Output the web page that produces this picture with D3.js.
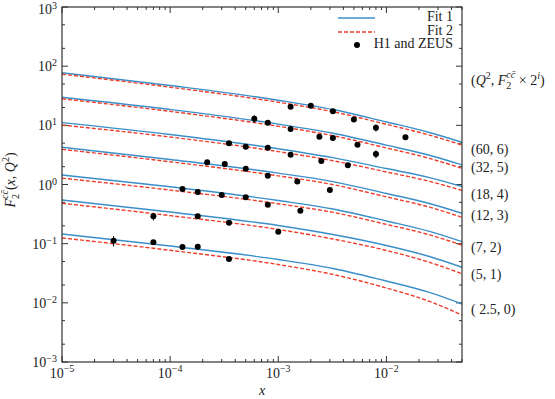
<!DOCTYPE html>
<html>
<head>
<meta charset="utf-8">
<script src="https://cdn.jsdelivr.net/npm/d3@7"></script>
<style>
  body { margin: 0; background: #fff; }
  text { font-family: "Liberation Serif", "DejaVu Serif", serif; fill: #222; }
</style>
</head>
<body>
<svg id="chart" width="555" height="399"></svg>
<script>
const xs = [1e-5, 1e-4, 1e-3, 3.2e-3, 1e-2, 2.5e-2, 5e-2];

// curve labels, lowest curve first: (Q^2, i), plotted value is F2 x 2^i
const curveLabels = ['( 2.5, 0)', '(5, 1)', '(7, 2)', '(12, 3)', '(18, 4)', '(32, 5)', '(60, 6)'];
const labelAt = [0.0079, 0.031, 0.089, 0.305, 0.69, 2.0, 3.94];

// Fit 1 (solid blue)
const fit1 = [
  [0.146, 0.0913, 0.0540, 0.0381, 0.0234, 0.0150, 0.00956],
  [0.547, 0.343, 0.203, 0.143, 0.0932, 0.0607, 0.0399],
  [1.45, 0.915, 0.537, 0.386, 0.242, 0.161, 0.108],
  [4.25, 2.65, 1.56, 1.12, 0.705, 0.478, 0.326],
  [11.1, 7.00, 4.01, 2.84, 1.86, 1.31, 0.926],
  [29.8, 18.5, 10.5, 7.36, 4.63, 3.12, 2.14],
  [77.6, 47.1, 26.6, 18.5, 11.4, 7.57, 5.17]
];

// Fit 2 (dashed red)
const fit2 = [
  [0.125, 0.0772, 0.0444, 0.0302, 0.0178, 0.0106, 0.00623],
  [0.481, 0.298, 0.174, 0.120, 0.0767, 0.0484, 0.0310],
  [1.28, 0.805, 0.473, 0.338, 0.212, 0.141, 0.0943],
  [3.93, 2.42, 1.40, 0.997, 0.618, 0.414, 0.279],
  [10.1, 6.35, 3.60, 2.52, 1.63, 1.13, 0.793],
  [28.1, 17.2, 9.64, 6.68, 4.15, 2.76, 1.88],
  [73.2, 44.1, 24.6, 17.0, 10.4, 6.84, 4.65]
];

// H1 and ZEUS points per curve
const dataX = [
  [3e-5, 7e-5, 1.3e-4, 1.8e-4, 3.5e-4],
  [7e-5, 1.8e-4, 3.5e-4, 1e-3],
  [1.3e-4, 1.8e-4, 3e-4, 5e-4, 8e-4, 1.6e-3],
  [2.2e-4, 3.2e-4, 5e-4, 8e-4, 1.5e-3, 3e-3],
  [3.5e-4, 5e-4, 8e-4, 1.3e-3, 2.5e-3, 4.4e-3],
  [6e-4, 8e-4, 1.3e-3, 2.4e-3, 3.2e-3, 5.4e-3, 8e-3],
  [1.3e-3, 2e-3, 3.2e-3, 5e-3, 8e-3, 1.5e-2]
];
const dataY = [
  [0.112, 0.106, 0.088, 0.089, 0.055],
  [0.29, 0.29, 0.226, 0.159],
  [0.84, 0.747, 0.665, 0.608, 0.456, 0.361],
  [2.37, 2.22, 1.85, 1.41, 1.12, 0.808],
  [4.97, 4.36, 4.19, 3.19, 2.50, 2.11],
  [12.9, 11.1, 8.67, 6.43, 6.11, 4.71, 3.28],
  [20.7, 21.5, 17.3, 12.5, 9.12, 6.28]
];
// relative errors
const dataErr = [
  [0.2, 0.06, 0.06, 0.06, 0.06],
  [0.15, 0.06, 0.06, 0.06],
  [0.06, 0.1, 0.06, 0.06, 0.06, 0.06],
  [0.06, 0.06, 0.06, 0.06, 0.06, 0.06],
  [0.06, 0.06, 0.06, 0.06, 0.06, 0.06],
  [0.15, 0.06, 0.06, 0.06, 0.06, 0.06, 0.15],
  [0.06, 0.06, 0.06, 0.06, 0.14, 0.06]
];

const xMajor = [1e-5, 1e-4, 1e-3, 1e-2];
const yMajor = [1e-3, 1e-2, 1e-1, 1, 10, 100, 1000];
const xExp = ['\u22125', '\u22124', '\u22123', '\u22122'];
const yExp = ['\u22123', '\u22122', '\u22121', '0', '1', '2', '3'];

const blue = '#3a8fc9';
const red = '#ec3d2d';

const L = 62, R = 462, T = 7, B = 362;
const x = d3.scaleLog().domain([1e-5, 0.05]).range([L, R]);
const y = d3.scaleLog().domain([1e-3, 1e3]).range([B, T]);

const svg = d3.select('#chart');

svg.append('clipPath').attr('id', 'clip')
  .append('rect').attr('x', L).attr('y', T).attr('width', R - L).attr('height', B - T);

// minor ticks
const xMinor = [];
xMajor.forEach(m => { for (let k = 2; k <= 9; k++) if (m * k <= 0.05) xMinor.push(m * k); });
const yMinor = [];
yMajor.slice(0, -1).forEach(m => { yMinor.push(m * 2, m * 5); });

const axes = svg.append('g').attr('stroke', '#333').attr('stroke-width', 1);
function xTick(v, len) {
  axes.append('line').attr('x1', x(v)).attr('x2', x(v)).attr('y1', B).attr('y2', B - len);
  axes.append('line').attr('x1', x(v)).attr('x2', x(v)).attr('y1', T).attr('y2', T + len);
}
function yTick(v, len) {
  axes.append('line').attr('x1', L).attr('x2', L + len).attr('y1', y(v)).attr('y2', y(v));
  axes.append('line').attr('x1', R).attr('x2', R - len).attr('y1', y(v)).attr('y2', y(v));
}
xMajor.forEach(v => xTick(v, 6));
xMinor.forEach(v => xTick(v, 3));
yMajor.forEach(v => yTick(v, 6));
yMinor.forEach(v => yTick(v, 3));

// fit curves
const line = d3.line().x((d, i) => x(xs[i])).y(d => y(d)).curve(d3.curveMonotoneX);
const curves = svg.append('g').attr('clip-path', 'url(#clip)').attr('fill', 'none');
fit1.forEach(c => {
  curves.append('path').attr('d', line(c)).attr('stroke', blue).attr('stroke-width', 1.4);
});
fit2.forEach(c => {
  curves.append('path').attr('d', line(c)).attr('stroke', red).attr('stroke-width', 1.4)
    .attr('stroke-dasharray', '4,2');
});

// data points
const pts = svg.append('g');
dataX.forEach((gx, g) => {
  gx.forEach((xv, i) => {
    const yv = dataY[g][i], e = dataErr[g][i];
    pts.append('line').attr('x1', x(xv)).attr('x2', x(xv))
      .attr('y1', y(yv * (1 + e))).attr('y2', y(yv * (1 - e)))
      .attr('stroke', '#000').attr('stroke-width', 1);
    pts.append('circle').attr('cx', x(xv)).attr('cy', y(yv)).attr('r', 3).attr('fill', '#000');
  });
});

// frame
svg.append('rect').attr('x', L).attr('y', T).attr('width', R - L).attr('height', B - T)
  .attr('fill', 'none').attr('stroke', '#333').attr('stroke-width', 1.2);

// tick labels
xMajor.forEach((v, i) => {
  const t = svg.append('text').attr('x', x(v)).attr('y', 378).attr('text-anchor', 'middle')
    .style('font-size', '14px');
  t.append('tspan').text('10');
  t.append('tspan').attr('dy', -6).style('font-size', '10px').text(xExp[i]);
});
yMajor.forEach((v, i) => {
  const t = svg.append('text').attr('x', 57).attr('y', Math.max(y(v) + 5, 14)).attr('text-anchor', 'end')
    .style('font-size', '14px');
  t.append('tspan').text('10');
  t.append('tspan').attr('dy', -5).style('font-size', '10px').text(yExp[i]);
});

// axis titles
svg.append('text').attr('x', (L + R) / 2).attr('y', 395).attr('text-anchor', 'middle')
  .style('font-size', '14px').style('font-style', 'italic').text('x');

const yt = svg.append('text').attr('transform', 'translate(15,180) rotate(-90)')
  .attr('text-anchor', 'middle').style('font-size', '14px');
yt.append('tspan').style('font-style', 'italic').text('F');
yt.append('tspan').attr('dy', 4).style('font-size', '10px').text('2');
yt.append('tspan').attr('dx', -5).attr('dy', -11).style('font-size', '10px').style('font-style', 'italic').text('cc\u0304');
yt.append('tspan').attr('dy', 7).text('(');
yt.append('tspan').style('font-style', 'italic').text('x');
yt.append('tspan').text(', ');
yt.append('tspan').style('font-style', 'italic').text('Q');
yt.append('tspan').attr('dy', -6).style('font-size', '10px').text('2');
yt.append('tspan').attr('dy', 6).text(')');

// right side labels
curveLabels.forEach((s, i) => {
  svg.append('text').attr('x', 471).attr('y', y(labelAt[i]) + 5)
    .style('font-size', '14px').text(s);
});
const hd = svg.append('text').attr('x', 471).attr('y', y(58) + 5).style('font-size', '14px');
hd.append('tspan').text('(');
hd.append('tspan').style('font-style', 'italic').text('Q');
hd.append('tspan').attr('dy', -6).style('font-size', '10px').text('2');
hd.append('tspan').attr('dy', 6).text(', ');
hd.append('tspan').style('font-style', 'italic').text('F');
hd.append('tspan').attr('dy', 4).style('font-size', '10px').text('2');
hd.append('tspan').attr('dx', -5).attr('dy', -11).style('font-size', '10px').style('font-style', 'italic').text('cc\u0304');
hd.append('tspan').attr('dy', 7).text(' \u00d7 2');
hd.append('tspan').attr('dy', -6).style('font-size', '10px').style('font-style', 'italic').text('i');
hd.append('tspan').attr('dy', 6).text(')');

// legend
const lg = svg.append('g');
lg.append('line').attr('x1', 338).attr('x2', 375).attr('y1', 18).attr('y2', 18)
  .attr('stroke', blue).attr('stroke-width', 1.4);
lg.append('line').attr('x1', 338).attr('x2', 375).attr('y1', 32).attr('y2', 32)
  .attr('stroke', red).attr('stroke-width', 1.4).attr('stroke-dasharray', '4,2');
lg.append('circle').attr('cx', 357).attr('cy', 45).attr('r', 3).attr('fill', '#000');
['Fit 1', 'Fit 2', 'H1 and ZEUS'].forEach((s, i) => {
  lg.append('text').attr('x', 453).attr('y', 21 + i * 13.5).attr('text-anchor', 'end')
    .style('font-size', '14px').text(s);
});
</script>
</body>
</html>
